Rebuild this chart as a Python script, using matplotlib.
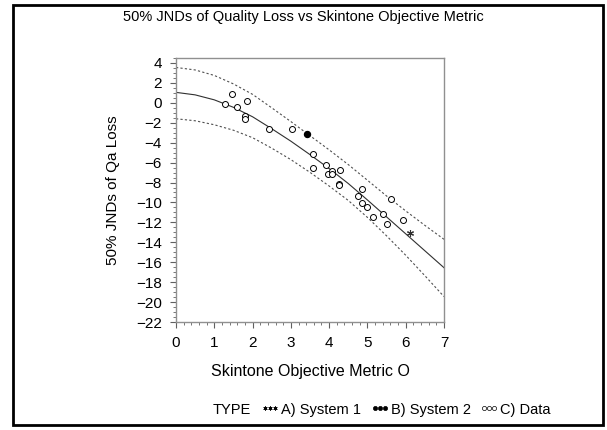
import numpy as np
import matplotlib
matplotlib.use("Agg")
import matplotlib.pyplot as plt
from matplotlib.lines import Line2D
from matplotlib.patches import Rectangle

plt.rcParams["font.family"] = ["Liberation Sans", "DejaVu Sans"]

# fitted curve and band, every 0.5
curve_x = [0, 0.5, 1, 1.5, 2, 2.5, 3, 3.5, 4, 4.5, 5, 5.5, 6, 6.5, 7]
fit_y = [1.05, 0.8, 0.3, -0.45, -1.4, -2.6, -3.85, -5.2, -6.6, -8.1,
         -9.75, -11.45, -13.15, -14.85, -16.55]
upper_y = [3.55, 3.3, 2.75, 1.9, 0.85, -0.5, -1.88, -3.3, -4.72, -6.2,
           -7.77, -9.35, -10.85, -12.3, -13.7]
lower_y = [-1.6, -1.8, -2.2, -2.75, -3.5, -4.55, -5.7, -6.98, -8.35, -9.8,
           -11.5, -13.35, -15.3, -17.35, -19.45]

# C) Data
data_x = [1.29, 1.47, 1.60, 1.85, 1.80, 1.80, 2.43, 3.03, 3.57, 3.57, 3.92,
          3.96, 4.07, 4.07, 4.29, 4.25, 4.26, 4.85, 4.76, 4.87, 4.98, 5.61,
          5.14, 5.40, 5.52, 5.94]
data_y = [-0.1, 0.87, -0.37, 0.17, -1.3, -1.64, -2.6, -2.58, -5.15, -6.5,
          -6.26, -7.1, -6.8, -7.14, -6.73, -8.17, -8.2, -8.67, -9.34, -10.07,
          -10.44, -9.64, -11.48, -11.2, -12.2, -11.78]
# A) System 1, B) System 2
sys1_x = [6.11]
sys1_y = [-13.1]
sys2_x = [3.41]
sys2_y = [-3.15]

fig = plt.figure(figsize=(6.07, 4.30), dpi=100)
W, H = 607, 430
ax = fig.add_axes([176 / W, 1 - 322 / H, (444 - 176) / W, (322 - 58) / H])

ax.plot(curve_x, fit_y, color="#303030", lw=0.8)
ax.plot(curve_x, upper_y, color="#505050", lw=0.8, dashes=(2, 2))
ax.plot(curve_x, lower_y, color="#505050", lw=0.8, dashes=(2, 2))

ax.plot(data_x, data_y, "o", ls="none", ms=4.3, mfc="white", mec="black", mew=0.7)
ax.plot(sys2_x, sys2_y, "o", ls="none", ms=4.3, mfc="black", mec="black")
ax.plot(sys1_x, sys1_y, marker=(6, 2, 0), ls="none", ms=5, mec="#303030",
        mew=0.8)

ax.set_xlim(0, 7)
ax.set_ylim(-22, 4.5)
ax.set_xticks(range(0, 8))
ax.set_yticks(range(-22, 5, 2))
ax.set_xticks(np.arange(0, 7.01, 0.2), minor=True)
ax.set_yticks(np.arange(-22, 4.6, 0.5), minor=True)
ax.tick_params(which="major", direction="out", length=4, width=0.8,
               color="#606060", labelsize=11, pad=6)
ax.tick_params(which="minor", direction="out", length=2, width=0.6,
               color="#606060")
for s in ax.spines.values():
    s.set_color("#909090")
    s.set_linewidth(1.0)

ax.set_xlabel("Skintone Objective Metric O", fontsize=11.5, labelpad=10)
ax.set_ylabel("50% JNDs of Qa Loss", fontsize=11, labelpad=12)

fig.text(0.5, 1 - 17 / H, "50% JNDs of Quality Loss vs Skintone Objective Metric",
         ha="center", va="center", fontsize=10.5)

# legend in SAS style
ly = 1 - 410 / H
fig.text(213 / W, ly, "TYPE", ha="left", va="center", fontsize=10.5)
entries = [((6, 2, 0), "#303030", "A) System 1", 263),
           ("o", "black", "B) System 2", 373),
           ("o", "white", "C) Data", 482)]
for mk, fc, label, x0 in entries:
    xs = [(x0 + 2 + 5 * i) / W for i in range(3)]
    fig.add_artist(Line2D(xs, [ly + 0.004] * 3, marker=mk, ls="none", ms=3,
                          mfc=fc, mec="black", mew=0.5,
                          transform=fig.transFigure))
    fig.text((x0 + 18) / W, ly, label, ha="left", va="center", fontsize=10.5)

fig.add_artist(Rectangle((13 / W, 1 - 425 / H), (603 - 13) / W, (425 - 5) / H,
                         transform=fig.transFigure, fill=False,
                         edgecolor="black", lw=2))

fig.savefig("out.png", dpi=100)
